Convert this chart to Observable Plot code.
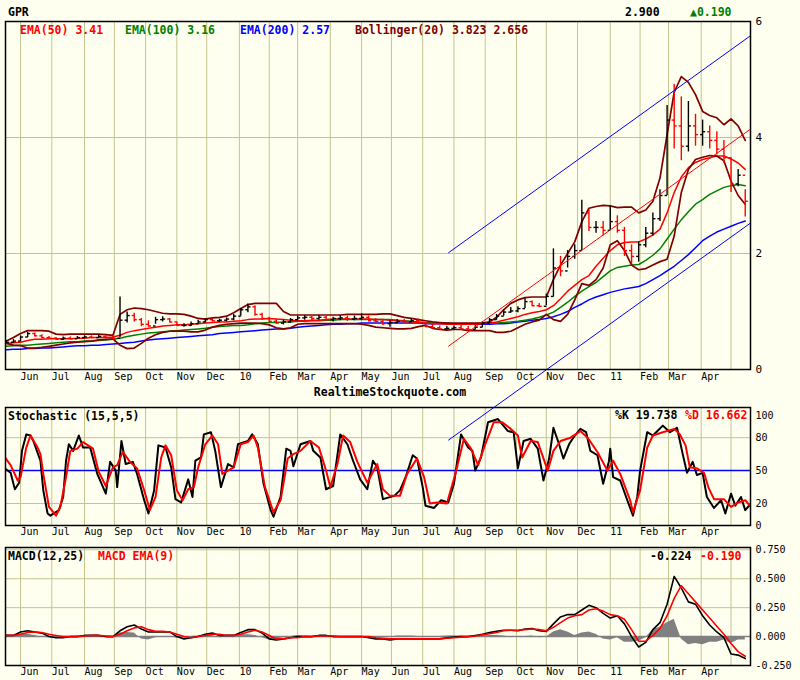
<!DOCTYPE html>
<html><head><meta charset="utf-8">
<script src="https://cdn.jsdelivr.net/npm/d3@7"></script>
<script src="https://cdn.jsdelivr.net/npm/@observablehq/plot@0.6"></script>
<style>
body{margin:0;background:#fffff0;}
#chart{position:relative;width:800px;height:680px;background:#fffff0;overflow:hidden;}
#chart svg{position:absolute;left:0;}
.lbl{position:absolute;white-space:pre;font-family:"DejaVu Sans Mono",monospace;font-weight:bold;font-size:11.5px;line-height:12px;transform:translateY(-50%);z-index:5;}
</style></head><body><div id="chart"></div>
<script>
// ---------- DATA (x = trading-day index, 0 = 2009-06-01) ----------
const monthLabels = ["Jun","Jul","Aug","Sep","Oct","Nov","Dec","10","Feb","Mar","Apr","May",
  "Jun","Jul","Aug","Sep","Oct","Nov","Dec","11","Feb","Mar","Apr",""];
const priceTicks = [0,2,4,6];
const stochTicks = [0,20,50,80,100];
const macdTicks = [-0.25,0,0.25,0.5,0.75];

// weekly samples, Mondays from 2009-05-18 to 2011-05-16
const low = [0.45,0.45,0.48,0.55,0.56,0.53,0.52,0.50,0.50,0.51,0.52, 0.53,0.53,0.54,0.53,0.52,0.55,0.80,0.82,0.74,0.73, 0.78,0.82,0.80,0.74,0.73,0.74,0.78,0.80,0.82,0.81, 0.82,0.84,0.92,0.98,0.92,0.85,0.80,0.78,0.77,0.80, 0.84,0.85,0.84,0.85,0.83,0.82,0.84,0.83,0.84,0.85, 0.82,0.80,0.76,0.73,0.79,0.80,0.81,0.79,0.72,0.70, 0.68,0.68,0.69,0.68,0.67,0.68,0.72,0.79,0.85,0.92, 0.97,0.98,1.05,1.08,1.07,1.10,1.25,1.60,1.75,1.90, 2.05,2.38,2.35,2.30,2.40,2.35,1.95,1.80,1.85,2.10, 2.30,2.55,3.00,3.80,3.60,3.75,3.85,3.85,3.80,3.70,3.55,3.05,3.15,2.63];
const high = [0.50,0.52,0.58,0.64,0.63,0.60,0.57,0.55,0.56,0.56,0.57, 0.58,0.58,0.59,0.58,0.57,1.25,0.99,0.97,0.88,0.84, 0.90,0.91,0.88,0.82,0.79,0.82,0.85,0.88,0.88,0.87, 0.89,0.95,1.05,1.13,1.10,0.97,0.90,0.86,0.85,0.88, 0.92,0.93,0.92,0.93,0.92,0.90,0.93,0.92,0.92,0.96, 0.92,0.88,0.86,0.84,0.86,0.86,0.88,0.87,0.81,0.78, 0.75,0.74,0.75,0.76,0.74,0.76,0.82,0.88,0.95,1.03, 1.07,1.08,1.22,1.18,1.14,1.30,2.08,1.95,2.05,2.15, 2.92,2.75,2.55,2.55,2.82,2.65,2.45,2.15,2.20,2.45, 2.70,3.10,4.55,4.92,4.70,4.62,4.40,4.30,4.20,4.10,3.95,3.65,3.45,3.10];
const close = [0.47,0.49,0.56,0.62,0.58,0.55,0.54,0.52,0.54,0.53,0.55, 0.56,0.55,0.57,0.55,0.54,0.85,0.93,0.86,0.78,0.75, 0.86,0.87,0.82,0.76,0.76,0.79,0.82,0.86,0.84,0.85, 0.87,0.92,1.03,1.08,0.95,0.88,0.83,0.80,0.82,0.86, 0.89,0.90,0.88,0.90,0.86,0.88,0.89,0.87,0.88,0.90, 0.84,0.83,0.79,0.81,0.83,0.82,0.84,0.80,0.74,0.72, 0.70,0.71,0.72,0.70,0.69,0.73,0.80,0.86,0.92,0.99, 1.01,1.05,1.17,1.10,1.09,1.26,1.75,1.70,1.95,2.05, 2.70,2.45,2.45,2.40,2.55,2.40,2.05,1.95,2.15,2.35, 2.60,3.00,4.30,4.20,3.85,4.20,4.05,4.10,3.95,3.80,3.65,3.20,3.35,2.90];
const ema50 = [0.45,0.46,0.47,0.50,0.52,0.52,0.53,0.53,0.53,0.53,0.54, 0.54,0.55,0.55,0.55,0.56,0.59,0.64,0.67,0.69,0.71, 0.73,0.75,0.76,0.77,0.77,0.78,0.79,0.80,0.81,0.82, 0.82,0.83,0.84,0.86,0.87,0.87,0.88,0.87,0.86,0.85, 0.84,0.84,0.85,0.85,0.86,0.87,0.87,0.87,0.87,0.87, 0.87,0.86,0.86,0.85,0.84,0.83,0.82,0.81,0.80,0.79, 0.79,0.78,0.78,0.78,0.78,0.78,0.79,0.80,0.82,0.85, 0.88,0.91,0.95,0.98,1.00,1.03,1.10,1.22,1.35,1.45, 1.55,1.62,1.78,1.92,2.05,2.15,2.19,2.20,2.20,2.25, 2.32,2.42,2.70,3.05,3.32,3.48,3.57,3.62,3.65,3.68,3.68,3.63,3.56,3.45];
const ema100 = [0.40,0.41,0.42,0.42,0.43,0.44,0.45,0.46,0.47,0.48,0.48, 0.49,0.49,0.50,0.51,0.52,0.54,0.57,0.59,0.61,0.63, 0.64,0.65,0.66,0.67,0.68,0.69,0.70,0.71,0.73,0.74, 0.75,0.76,0.76,0.77,0.79,0.80,0.81,0.81,0.82,0.82, 0.83,0.83,0.84,0.84,0.85,0.85,0.86,0.86,0.86,0.86, 0.86,0.86,0.86,0.86,0.85,0.84,0.83,0.82,0.81,0.80, 0.80,0.80,0.79,0.79,0.79,0.79,0.80,0.80,0.80,0.81, 0.82,0.83,0.85,0.87,0.90,0.94,0.99,1.07,1.16,1.26, 1.35,1.43,1.50,1.60,1.70,1.76,1.78,1.80,1.81,1.88, 1.97,2.08,2.25,2.42,2.58,2.72,2.85,2.93,3.02,3.08,3.14,3.17,3.19,3.17];
const ema200 = [0.34,0.35,0.35,0.36,0.36,0.37,0.37,0.38,0.39,0.40,0.41, 0.41,0.42,0.42,0.43,0.44,0.45,0.46,0.47,0.49,0.51, 0.52,0.53,0.54,0.55,0.56,0.57,0.58,0.59,0.60,0.62, 0.63,0.64,0.65,0.66,0.67,0.68,0.69,0.70,0.70,0.71, 0.73,0.74,0.75,0.76,0.77,0.78,0.78,0.79,0.79,0.80, 0.80,0.80,0.80,0.80,0.80,0.80,0.80,0.80,0.79,0.79, 0.79,0.79,0.79,0.78,0.78,0.78,0.78,0.78,0.79,0.79, 0.80,0.82,0.83,0.85,0.86,0.88,0.91,0.95,1.00,1.07, 1.13,1.20,1.25,1.29,1.33,1.36,1.39,1.41,1.43,1.48, 1.55,1.62,1.70,1.78,1.88,1.98,2.10,2.22,2.30,2.37,2.42,2.47,2.52,2.56];
const bbUpper = [0.49,0.55,0.62,0.67,0.67,0.67,0.66,0.61,0.60,0.61,0.61, 0.61,0.61,0.61,0.60,0.59,0.95,1.03,1.06,1.05,1.03, 1.00,0.97,0.96,0.96,0.95,0.92,0.88,0.87,0.89,0.90, 0.92,0.98,1.05,1.12,1.14,1.14,1.14,1.14,1.00,0.94, 0.94,0.94,0.94,0.94,0.94,0.94,0.94,0.95,0.95,0.95, 0.95,0.95,0.96,0.96,0.93,0.90,0.88,0.86,0.84,0.82, 0.81,0.80,0.80,0.80,0.80,0.80,0.80,0.82,0.90,1.03, 1.14,1.20,1.24,1.25,1.25,1.25,1.55,1.80,2.00,2.20, 2.55,2.78,2.81,2.83,2.82,2.79,2.80,2.80,2.70,2.75, 2.90,3.30,4.05,4.78,5.05,4.95,4.74,4.45,4.38,4.34,4.22,4.32,4.20,3.95];
const bbLower = [0.45,0.42,0.41,0.37,0.37,0.38,0.40,0.42,0.44,0.46,0.47, 0.48,0.49,0.51,0.52,0.53,0.42,0.36,0.37,0.45,0.54, 0.60,0.64,0.66,0.66,0.66,0.65,0.65,0.68,0.73,0.76, 0.78,0.79,0.80,0.80,0.80,0.79,0.77,0.72,0.70,0.72, 0.78,0.79,0.79,0.79,0.79,0.79,0.79,0.79,0.79,0.78, 0.76,0.73,0.72,0.71,0.70,0.70,0.71,0.74,0.76,0.71, 0.69,0.68,0.69,0.69,0.67,0.67,0.67,0.67,0.64,0.64, 0.66,0.72,0.78,0.82,0.85,0.95,0.86,0.83,0.95,1.20, 1.48,1.45,1.55,1.75,2.15,2.22,2.05,1.80,1.72,1.74, 1.80,1.86,1.90,2.30,3.05,3.45,3.62,3.66,3.69,3.68,3.60,3.25,3.00,2.85];
const macd = [0.01,0.01,0.04,0.05,0.04,0.03,0.00,-0.01,-0.01,0.00,0.00, 0.01,0.01,0.01,0.00,0.00,0.05,0.085,0.10,0.065,0.04, 0.04,0.04,0.04,0.00,-0.02,-0.01,0.00,0.02,0.03,0.01, 0.01,0.01,0.035,0.06,0.06,0.03,-0.02,-0.03,-0.02,-0.01, 0.00,0.00,0.00,0.01,0.01,0.00,0.00,0.00,0.00,0.00, -0.01,-0.02,-0.02,-0.03,-0.02,-0.02,-0.02,-0.02,-0.02,-0.02, -0.02,-0.01,-0.005,0.00,0.00,0.01,0.02,0.035,0.045,0.055, 0.055,0.05,0.065,0.07,0.05,0.045,0.11,0.17,0.19,0.19, 0.23,0.27,0.25,0.20,0.16,0.18,0.11,0.00,-0.09,-0.05, 0.06,0.12,0.28,0.52,0.42,0.30,0.28,0.18,0.10,0.04,-0.01,-0.15,-0.16,-0.19];
const macdSignal = [0.01,0.01,0.02,0.035,0.04,0.035,0.02,0.01,0.00,0.00,0.00, 0.005,0.01,0.01,0.005,0.00,0.02,0.05,0.075,0.085,0.06, 0.045,0.045,0.04,0.02,0.00,-0.01,0.00,0.01,0.02,0.02, 0.01,0.01,0.02,0.04,0.055,0.04,0.01,-0.02,-0.02,-0.01, -0.01,0.00,0.00,0.005,0.005,0.005,0.00,0.00,0.00,0.00, 0.00,-0.01,-0.015,-0.02,-0.02,-0.02,-0.02,-0.02,-0.02,-0.02, -0.02,-0.015,-0.01,-0.005,0.00,0.005,0.015,0.025,0.035,0.05, 0.055,0.055,0.06,0.065,0.06,0.05,0.08,0.12,0.16,0.18, 0.19,0.23,0.24,0.22,0.19,0.18,0.15,0.06,-0.04,-0.04, 0.01,0.07,0.18,0.33,0.44,0.37,0.30,0.23,0.16,0.09,0.02,-0.06,-0.13,-0.17];
const macdHist = [0,0,0.02,0.02,0.01,-0.005,-0.01,-0.01,-0.005,0,0.005, 0,0,0,0,0,0.03,0.035,0.03,-0.02,-0.03, -0.01,0,0,-0.015,-0.015,0,0.005,0.01,0.01,-0.01, -0.005,0,0.015,0.015,0.01,-0.01,-0.03,-0.02,-0.01,0, 0.01,0.005,0,0.005,0,0,0,0,0,0, -0.005,-0.005,0,-0.005,0.005,0.005,0.005,0,0,0, 0,0.005,0.005,0.005,0,0.005,0.005,0.01,0.01,0.005, -0.005,-0.005,0,0.005,-0.01,-0.005,0.04,0.06,0.04,0.01, 0.03,0.04,0.02,-0.02,-0.03,-0.01,-0.05,-0.05,-0.04,-0.01, 0.06,0.08,0.12,0.15,-0.02,-0.07,-0.06,-0.07,-0.05,-0.05,-0.03,-0.06,-0.03,-0.03];

// stochastic traces: [trading-day index, value]
const stochK = [[-11,52],[-7,48],[-4,33],[-1,39],[1,68],[4,83],[7,82],[9,77],[14,59],[16,32],[19,11],[21,9],[27,14],[30,26],[32,59],[34,74],[37,68],[41,82],[44,71],[49,71],[54,47],[60,29],[63,58],[67,50],[68,35],[71,77],[74,56],[79,58],[82,47],[87,23],[90,11],[94,32],[97,73],[102,71],[106,53],[109,24],[113,21],[118,42],[121,26],[123,59],[127,62],[129,83],[134,85],[137,68],[141,35],[146,56],[150,53],[153,74],[160,77],[163,83],[167,74],[171,38],[176,14],[178,8],[183,26],[187,70],[190,68],[192,54],[197,74],[204,77],[206,68],[211,62],[215,33],[220,36],[225,83],[230,74],[234,59],[239,42],[244,33],[248,59],[251,53],[255,24],[263,27],[267,32],[271,44],[276,64],[279,61],[283,35],[285,18],[291,16],[296,23],[301,21],[305,38],[310,83],[315,71],[318,68],[320,50],[324,62],[329,94],[336,97],[343,86],[347,85],[350,52],[354,77],[359,79],[364,70],[368,41],[372,61],[375,89],[379,74],[382,61],[386,74],[389,80],[394,88],[398,85],[401,68],[406,64],[410,38],[414,58],[415,70],[417,44],[422,41],[427,23],[431,9],[434,26],[436,50],[441,85],[445,82],[452,91],[457,85],[462,89],[466,65],[469,48],[473,58],[476,46],[480,48],[483,26],[488,16],[493,23],[496,11],[500,29],[503,18],[507,26],[510,14],[514,20]];
const stochD = [[-11,62],[-7,55],[-2,41],[0,44],[4,71],[7,82],[12,71],[14,65],[16,47],[20,17],[25,9],[28,17],[32,44],[35,68],[40,70],[44,76],[51,70],[55,49],[60,36],[65,53],[68,55],[72,67],[77,58],[82,52],[87,32],[91,14],[95,26],[99,62],[102,73],[106,64],[110,32],[114,23],[118,33],[122,35],[125,53],[130,74],[135,82],[139,74],[142,47],[146,50],[150,53],[155,74],[160,76],[164,82],[167,71],[172,35],[178,12],[183,23],[188,61],[192,65],[197,68],[204,77],[210,71],[215,50],[218,35],[223,56],[227,82],[232,76],[237,58],[244,39],[251,56],[255,33],[260,27],[267,27],[272,47],[279,61],[284,44],[288,20],[293,21],[300,20],[306,47],[312,79],[317,70],[322,55],[327,74],[333,94],[339,94],[345,88],[350,82],[353,62],[359,77],[364,76],[371,50],[375,68],[380,77],[387,80],[394,86],[399,80],[406,67],[413,50],[417,59],[422,47],[429,23],[431,12],[436,32],[441,71],[445,82],[452,85],[460,88],[464,83],[468,73],[471,53],[476,52],[481,48],[484,35],[488,24],[495,24],[500,17],[505,21],[510,23],[514,17]];

// trend channel endpoints
const channelDays = [301, 514];
const channelUpper = [2.01, 5.76];
const channelMid = [0.40, 4.15];
const channelLower = [-1.22, 2.53];

// ---------- BUILD ----------
const T0 = Date.UTC(2009,5,1);
function bd(t){ const days=Math.round((+t - T0)/864e5); const w=Math.floor(days/7); const r=days-7*w; return 5*w+Math.min(r,5); }
const weekStarts = d3.utcMonday.range(new Date(Date.UTC(2009,4,18)), new Date(Date.UTC(2011,4,17)));
const monthStarts = d3.utcMonth.range(new Date(Date.UTC(2009,5,1)), new Date(Date.UTC(2011,4,2)));
const monthTicks = monthStarts.map((d,j)=>({i:bd(d), label:monthLabels[j]}));
const weeks = weekStarts.map((d,k)=>({i:bd(d), low:low[k], high:high[k], close:close[k],
  open: k>0?close[k-1]:close[k], up: k===0 || close[k]>=close[k-1],
  ema50:ema50[k], ema100:ema100[k], ema200:ema200[k], bbU:bbUpper[k], bbL:bbLower[k],
  macd:macd[k], sig:macdSignal[k], hist:macdHist[k]}));
const channel = [
  {x1:channelDays[0],x2:channelDays[1],y1:channelUpper[0],y2:channelUpper[1],c:"#0000ff"},
  {x1:channelDays[0],x2:channelDays[1],y1:channelMid[0],y2:channelMid[1],c:"#ff0000"},
  {x1:channelDays[0],x2:channelDays[1],y1:channelLower[0],y2:channelLower[1],c:"#0000ff"}];

const grid = "#c4c48f";
const xDomain = [-10.6, 513.7];
const FONT = "DejaVu Sans Mono";
const baseStyle = {background:"transparent", fontFamily:FONT, fontSize:"10px", overflow:"visible", color:"black"};
const monthGrid = () => Plot.ruleX(monthTicks,{x:"i",stroke:grid,strokeWidth:1});
const monthText = (dy) => Plot.text(monthTicks.filter(d=>d.label),{x:"i",text:"label",frameAnchor:"bottom",textAnchor:"start",lineAnchor:"top",dy,fontSize:10,fill:"black"});
const barColor = d => d.up ? "black" : "red";

const chart = document.getElementById("chart");

const main = Plot.plot({
  width:800, height:390, marginLeft:5, marginRight:50, marginTop:21, marginBottom:21,
  x:{domain:xDomain, axis:null}, y:{domain:[0,6]},
  style:baseStyle,
  marks:[
    monthGrid(),
    Plot.ruleY([2,4],{stroke:grid,strokeWidth:1}),
    Plot.line(weeks,{x:"i",y:"ema200",stroke:"#0000ff",strokeWidth:1.5,clip:true}),
    Plot.line(weeks,{x:"i",y:"ema100",stroke:"#008000",strokeWidth:1.5,clip:true}),
    Plot.line(weeks,{x:"i",y:"ema50",stroke:"#ff0000",strokeWidth:1.5,clip:true}),
    Plot.line(weeks,{x:"i",y:"bbU",stroke:"#800000",strokeWidth:1.7,clip:true}),
    Plot.line(weeks,{x:"i",y:"bbL",stroke:"#800000",strokeWidth:1.7,clip:true}),
    Plot.ruleX(weeks,{x:"i",y1:"low",y2:"high",stroke:barColor,strokeWidth:1.4,clip:true}),
    Plot.link(weeks,{x1:d=>d.i-1.8,x2:"i",y1:"open",y2:"open",stroke:barColor,strokeWidth:1.4,clip:true}),
    Plot.link(weeks,{x1:"i",x2:d=>d.i+1.8,y1:"close",y2:"close",stroke:barColor,strokeWidth:1.4,clip:true}),
    Plot.link(channel,{x1:"x1",x2:"x2",y1:"y1",y2:"y2",stroke:"c",strokeWidth:1}),
    Plot.frame({stroke:"black",strokeWidth:1.5}),
    Plot.axisY({anchor:"right",ticks:priceTicks,tickSize:0,tickPadding:5,fontSize:11,tickFormat:d=>String(d)}),
    monthText(3)
  ]
});
main.style.top = "0px"; main.style.zIndex = 2;

const stoch = Plot.plot({
  width:800, height:140, marginLeft:5, marginRight:50, marginTop:7, marginBottom:15,
  x:{domain:xDomain, axis:null}, y:{domain:[0,107.5]},
  style:baseStyle,
  marks:[
    monthGrid(),
    Plot.ruleY([20,80],{stroke:grid,strokeWidth:1}),
    Plot.ruleY([50],{stroke:"#0000ff",strokeWidth:1.5}),
    Plot.line(stochK,{x:d=>d[0],y:d=>d[1],stroke:"black",strokeWidth:2,clip:true}),
    Plot.line(stochD,{x:d=>d[0],y:d=>d[1],stroke:"#ff0000",strokeWidth:2,clip:true}),
    Plot.frame({stroke:"black",strokeWidth:1.5}),
    Plot.axisY({anchor:"right",ticks:stochTicks,tickSize:0,tickPadding:5,fontSize:10,tickFormat:d=>String(d)}),
    monthText(2)
  ]
});
stoch.style.top = "400px"; stoch.style.zIndex = 1;

const macdPlot = Plot.plot({
  width:800, height:140, marginLeft:5, marginRight:50, marginTop:7, marginBottom:15,
  x:{domain:xDomain, axis:null}, y:{domain:[-0.25,0.77]},
  style:baseStyle,
  marks:[
    monthGrid(),
    Plot.ruleY([0.25,0.5,0.75],{stroke:grid,strokeWidth:1}),
    Plot.areaY(weeks,{x:"i",y:"hist",fill:"#808080",clip:true}),
    Plot.ruleY([0],{stroke:"#808080",strokeWidth:1.5}),
    Plot.line(weeks,{x:"i",y:"macd",stroke:"black",strokeWidth:1.6,clip:true}),
    Plot.line(weeks,{x:"i",y:"sig",stroke:"#ff0000",strokeWidth:1.6,clip:true}),
    Plot.frame({stroke:"black",strokeWidth:1.5}),
    Plot.axisY({anchor:"right",ticks:macdTicks,tickSize:0,tickPadding:5,fontSize:10,tickFormat:d=>d.toFixed(3)}),
    monthText(2)
  ]
});
macdPlot.style.top = "540px"; macdPlot.style.zIndex = 1;

chart.append(macdPlot, stoch, main);

const labels = [
  ["GPR",8,12,"black"],
  ["2.900",625,12,"black"],
  ["\u25B20.190",690,12,"#008000"],
  ["EMA(50) 3.41",20,30,"#ff0000"],
  ["EMA(100) 3.16",125,30,"#008000"],
  ["EMA(200) 2.57",240,30,"#0000ff"],
  ["Bollinger(20) 3.823 2.656",355,30,"#800000"],
  ["Stochastic (15,5,5)",8,416,"black"],
  ["%K 19.738",615,415,"black"],
  ["%D 16.662",685,415,"#ff0000"],
  ["MACD(12,25)",8,556,"black"],
  ["MACD EMA(9)",98,556,"#ff0000"],
  ["-0.224",650,556,"black"],
  ["-0.190",700,556,"#ff0000"]
];
for (const [t,x,y,c] of labels){
  const el=document.createElement("div"); el.className="lbl"; el.textContent=t;
  el.style.left=x+"px"; el.style.top=y+"px"; el.style.color=c; chart.append(el);
}
const wm=document.createElement("div"); wm.className="lbl"; wm.textContent="RealtimeStockquote.com";
wm.style.left="390px"; wm.style.top="392px"; wm.style.transform="translate(-50%,-50%)"; chart.append(wm);
</script></body></html>
